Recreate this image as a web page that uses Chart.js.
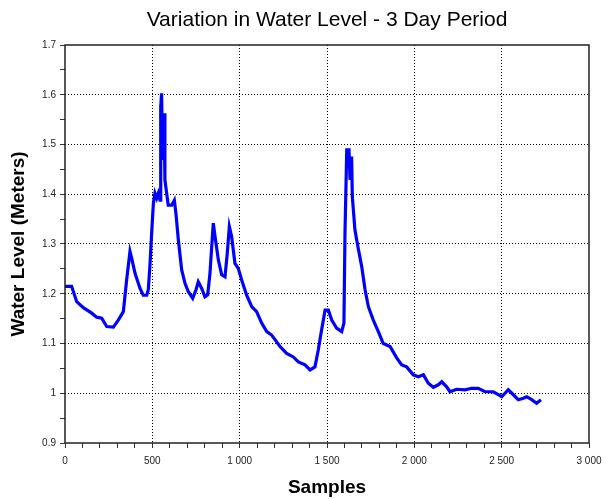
<!DOCTYPE html>
<html>
<head>
<meta charset="utf-8">
<script src="https://cdn.jsdelivr.net/npm/chart.js@4"></script>
<style>
  body { margin: 0; background: #fff; }
  #wrap { width: 609px; height: 499px; }
</style>
</head>
<body>
<div id="wrap"><canvas id="myChart"></canvas></div>
<script>
// data
const samples = [0, 38, 67, 105, 153, 181, 210, 239, 277, 305, 334, 353, 372, 382, 401, 429, 448, 468, 477, 487,
  496, 506, 515, 525, 534, 544, 548, 553, 559, 567, 572, 591, 611, 626, 635, 649, 668, 687, 706, 731,
  750, 763, 782, 801, 817, 830, 840, 849, 859, 878, 897, 916, 929, 941, 954, 973, 992, 1011, 1040, 1069,
  1097, 1126, 1155, 1183, 1231, 1269, 1307, 1336, 1374, 1403, 1431, 1450, 1469, 1489, 1508, 1527, 1555, 1584, 1597, 1603,
  1613, 1626, 1632, 1641, 1645, 1660, 1679, 1699, 1718, 1737, 1765, 1794, 1822, 1861, 1899, 1928, 1956, 1994, 2023, 2052,
  2080, 2109, 2137, 2157, 2185, 2204, 2242, 2290, 2328, 2366, 2405, 2452, 2481, 2500, 2538, 2567, 2595, 2624, 2643, 2672,
  2700, 2725];
const level = [1.215, 1.215, 1.184, 1.172, 1.161, 1.153, 1.151, 1.134, 1.133, 1.147, 1.164, 1.228, 1.285, 1.271, 1.241, 1.211, 1.197, 1.197, 1.208, 1.261,
  1.321, 1.382, 1.402, 1.392, 1.402, 1.388, 1.576, 1.603, 1.469, 1.563, 1.429, 1.378, 1.378, 1.388, 1.362, 1.308, 1.248, 1.221, 1.204, 1.191,
  1.208, 1.224, 1.211, 1.194, 1.198, 1.241, 1.295, 1.342, 1.315, 1.268, 1.238, 1.234, 1.281, 1.335, 1.315, 1.261, 1.251, 1.228, 1.197, 1.174,
  1.164, 1.141, 1.124, 1.117, 1.094, 1.080, 1.073, 1.063, 1.057, 1.047, 1.053, 1.087, 1.127, 1.167, 1.167, 1.147, 1.131, 1.124, 1.141, 1.322,
  1.489, 1.489, 1.429, 1.476, 1.395, 1.328, 1.291, 1.254, 1.208, 1.174, 1.147, 1.124, 1.100, 1.094, 1.071, 1.057, 1.053, 1.037, 1.033, 1.037,
  1.020, 1.012, 1.017, 1.023, 1.013, 1.003, 1.008, 1.007, 1.010, 1.010, 1.003, 1.003, 0.997, 0.993, 1.007, 0.997, 0.987, 0.990, 0.993, 0.987,
  0.980, 0.987];

const xMin = 0, xMax = 3000, xMajor = 500;
const yMin = 0.9, yMax = 1.7;

const points = samples.map((s, i) => ({ x: s, y: level[i] }));

const FONT = "'Liberation Sans', Arial, sans-serif";

// cadre noir autour de la zone du graphe
const framePlugin = {
  id: 'frame',
  afterDatasetsDraw(chart) {
    const a = chart.chartArea, ctx = chart.ctx;
    ctx.save();
    ctx.strokeStyle = '#222';
    ctx.lineWidth = 1.5;
    ctx.strokeRect(a.left, a.top, a.right - a.left, a.bottom - a.top);
    ctx.restore();
  }
};

function isMajorX(v) { return Math.abs(v % xMajor) < 1e-6; }
function isMajorY(v) { return Math.abs(Math.round(v * 10) - v * 10) < 1e-6; }

const config = {
  type: 'line',
  data: {
    datasets: [{
      data: points,
      borderColor: '#0000ff',
      borderWidth: 3.2,
      pointRadius: 0,
      tension: 0,
      fill: false
    }]
  },
  options: {
    responsive: true,
    maintainAspectRatio: false,
    animation: false,
    layout: { padding: { left: 0, right: 20, top: 0, bottom: 0 } },
    plugins: {
      legend: { display: false },
      tooltip: { enabled: false },
      title: {
        display: true,
        text: 'Variation in Water Level - 3 Day Period',
        color: '#000',
        font: { family: FONT, size: 21, weight: 'normal' },
        padding: { top: 7.5, bottom: 12.3 },
        fullSize: false
      }
    },
    scales: {
      x: {
        type: 'linear',
        min: xMin,
        max: xMax,
        afterFit(scale) { scale.height = 56; },
        ticks: {
          stepSize: 100,
          autoSkip: false,
          maxRotation: 0,
          padding: 7,
          color: '#222',
          font: { family: FONT, size: 10 },
          callback: v => isMajorX(v) ? String(v).replace(/\B(?=(\d{3})+(?!\d))/g, ' ') : ''
        },
        grid: {
          color: c => (c.tick && isMajorX(c.tick.value) && c.tick.value > xMin && c.tick.value < xMax) ? '#000' : 'rgba(0,0,0,0)',
          lineWidth: 1,
          tickColor: '#333',
          tickLength: 5
        },
        border: { display: false, dash: [1, 2] },
        title: {
          display: true,
          text: 'Samples',
          color: '#000',
          font: { family: FONT, size: 19, weight: 'bold' },
          padding: { top: 2, bottom: 0 }
        }
      },
      y: {
        min: yMin,
        max: yMax,
        afterFit(scale) { scale.width = 65; },
        ticks: {
          stepSize: 0.05,
          autoSkip: false,
          padding: 4,
          color: '#222',
          font: { family: FONT, size: 10 },
          callback: v => isMajorY(v) ? String(Math.round(v * 10) / 10) : ''
        },
        grid: {
          color: c => (c.tick && isMajorY(c.tick.value) && c.tick.value > yMin + 1e-6 && c.tick.value < yMax - 1e-6) ? '#000' : 'rgba(0,0,0,0)',
          lineWidth: 1,
          tickColor: '#333',
          tickLength: 5
        },
        border: { display: false, dash: [1, 2] },
        title: {
          display: true,
          text: 'Water Level (Meters)',
          color: '#000',
          font: { family: FONT, size: 19, weight: 'bold' },
          padding: { top: 7, bottom: 4 }
        }
      }
    }
  },
  plugins: [framePlugin]
};

var myChart = new Chart(document.getElementById('myChart'), config);
</script>
</body>
</html>
